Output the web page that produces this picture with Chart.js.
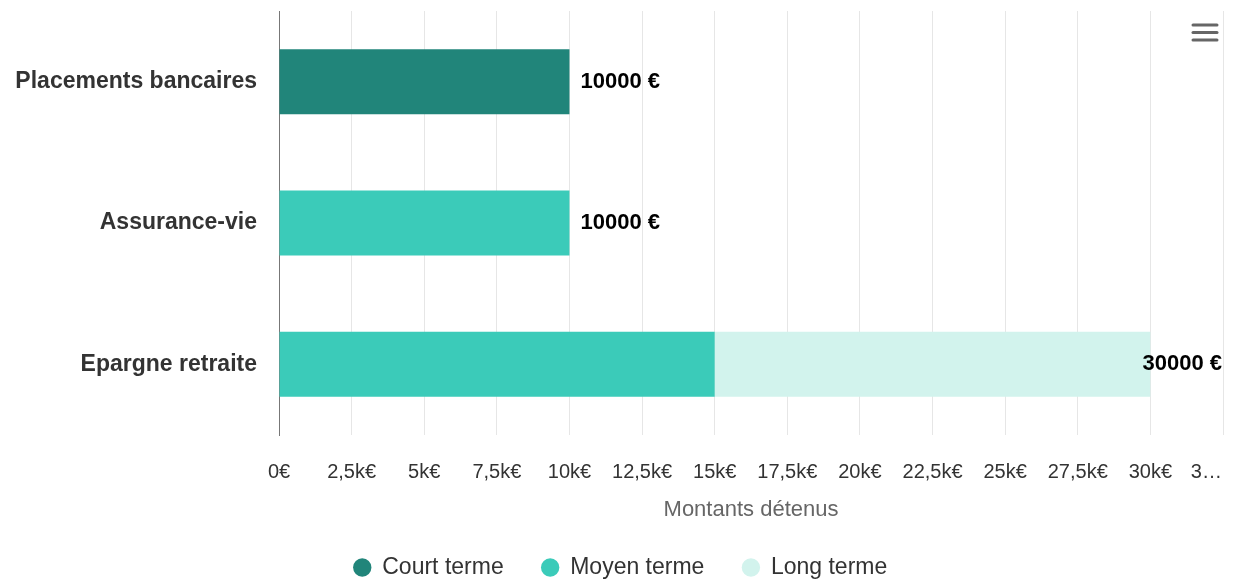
<!DOCTYPE html>
<html>
<head>
<meta charset="utf-8">
<script src="https://cdn.jsdelivr.net/npm/chart.js@4/dist/chart.umd.min.js"></script>
<style>
	html, body { margin: 0; padding: 0; background: #fff; overflow: hidden; }
	#wrap { width: 1234px; height: 582px; position: relative; }
</style>
</head>
<body>
<div id="wrap"><canvas id="myChart"></canvas></div>
<script>
	var categories = ["Placements bancaires", "Assurance-vie", "Epargne retraite"];
	var seriesNames = ["Court terme", "Moyen terme", "Long terme"];
	var courtTerme = [10000, 0, 0];
	var moyenTerme = [0, 10000, 15000];
	var longTerme = [0, 0, 15000];
	var colors = ["#21857a", "#3bcbb9", "#d2f3ed"];
	var axisMax = 32500;
	var axisStep = 2500;

	var FONT = "'Liberation Sans', Arial, sans-serif";

	function tickLabel(v) {
		// last label is cut short, pushed left so it fits
		if (v === axisMax) return "3\u2026\u00a0\u00a0\u00a0\u00a0\u00a0\u00a0";
		if (v === 0) return "0\u20ac";
		return String(v / 1000).replace(".", ",") + "k\u20ac";
	}

	// totals at the end of each stacked bar
	var totalsPlugin = {
		id: "totals",
		afterLayout: function(chart) {
			// legend row sits a bit right of centre
			chart.legend.left += 9;
			chart.legend.right += 9;
		},
		afterDatasetsDraw: function(chart) {
			var ctx = chart.ctx;
			var n = chart.data.labels.length;
			ctx.save();
			ctx.font = "bold 22px " + FONT;
			ctx.fillStyle = "#000";
			ctx.textBaseline = "middle";
			for (var i = 0; i < n; i++) {
				var total = 0;
				chart.data.datasets.forEach(function(ds) { total += ds.data[i] || 0; });
				var y = chart.getDatasetMeta(0).data[i].y;
				var xEnd = chart.scales.x.getPixelForValue(total);
				var txt = total + " \u20ac";
				var w = ctx.measureText(txt).width;
				var x = xEnd + 11;
				if (x + w > chart.width - 12) x = chart.width - 12 - w;
				ctx.textAlign = "left";
				ctx.fillText(txt, x, y);
			}
			ctx.restore();
		}
	};

	// hamburger menu icon
	var menuPlugin = {
		id: "menu",
		afterDraw: function(chart) {
			var ctx = chart.ctx;
			ctx.save();
			ctx.strokeStyle = "#666";
			ctx.lineWidth = 3;
			ctx.lineCap = "round";
			[25, 32.5, 40].forEach(function(y) {
				ctx.beginPath();
				ctx.moveTo(1193, y);
				ctx.lineTo(1217, y);
				ctx.stroke();
			});
			ctx.restore();
		}
	};

	var datac = {
		labels: categories,
		datasets: [
			{ label: seriesNames[0], data: courtTerme, backgroundColor: colors[0] },
			{ label: seriesNames[1], data: moyenTerme, backgroundColor: colors[1] },
			{ label: seriesNames[2], data: longTerme, backgroundColor: colors[2] }
		]
	};

	var ctx = document.getElementById("myChart");
	var myChart = new Chart(ctx, {
		type: "bar",
		data: datac,
		plugins: [totalsPlugin, menuPlugin],
		options: {
			indexAxis: "y",
			responsive: true,
			maintainAspectRatio: false,
			animation: false,
			layout: { padding: { top: 11, right: 11, bottom: -7, left: 0 } },
			datasets: { bar: { categoryPercentage: 0.46, barPercentage: 1 } },
			scales: {
				x: {
					stacked: true,
					min: 0,
					max: axisMax,
					grid: { color: "#e6e6e6", drawTicks: false },
					border: { display: false },
					ticks: {
						stepSize: axisStep,
						autoSkip: false,
						maxRotation: 0,
						padding: 25,
						color: "#333",
						font: { family: FONT, size: 20 },
						callback: function(v) { return tickLabel(v); }
					},
					title: {
						display: true,
						text: "Montants d\u00e9tenus",
						color: "#666",
						font: { family: FONT, size: 22 },
						padding: { top: 0, bottom: -5 }
					},
					afterFit: function(s) { s.paddingRight = 0; s.paddingLeft = 0; s.height = 83; }
				},
				y: {
					stacked: true,
					grid: { display: false, drawTicks: false },
					border: { display: true, color: "#777", width: 1 },
					ticks: {
						padding: 22,
						color: "#333",
						font: { family: FONT, size: 23, weight: "bold" }
					},
					afterFit: function(s) { s.width = 279; s.paddingTop = 0; s.paddingBottom = 0; }
				}
			},
			plugins: {
				legend: {
					position: "bottom",
					labels: {
						usePointStyle: true,
						pointStyle: "circle",
						boxWidth: 17,
						boxHeight: 13,
						padding: 38,
						color: "#333",
						font: { family: FONT, size: 23 }
					}
				},
				tooltip: { enabled: false }
			}
		}
	});
</script>
</body>
</html>
